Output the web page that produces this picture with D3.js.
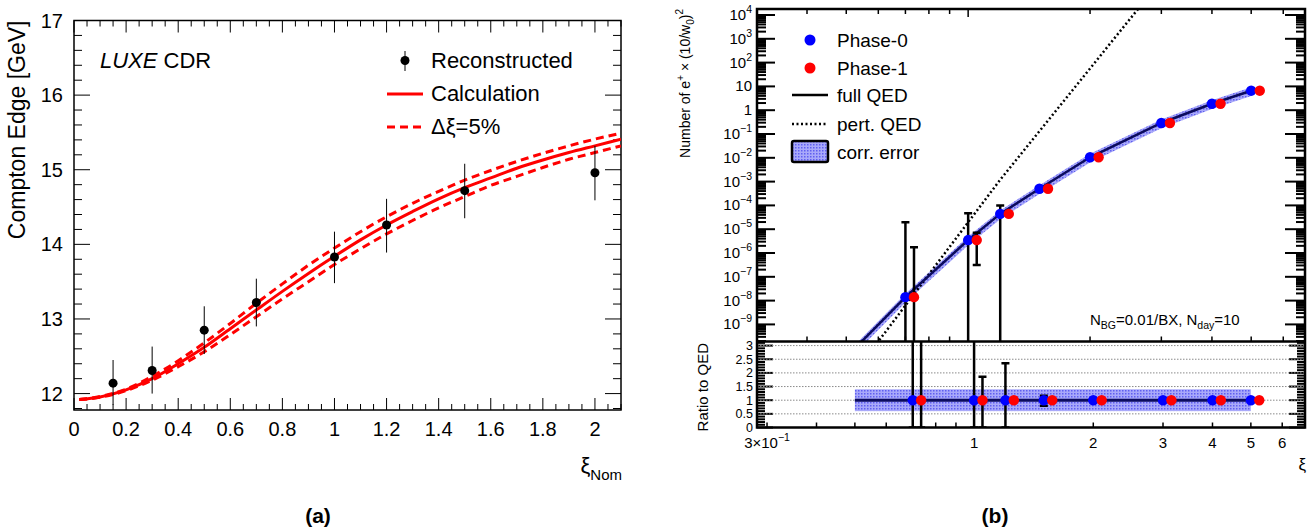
<!DOCTYPE html>
<html>
<head>
<meta charset="utf-8">
<script src="https://cdn.jsdelivr.net/npm/d3@7"></script>
<style>
  body { margin: 0; background: #fff; }
  svg { display: block; font-family: "Liberation Sans", Arial, Helvetica, sans-serif; }
</style>
</head>
<body>
<svg id="fig" width="1314" height="530"></svg>
<script>
// ---------- data, panel (a) ----------
const xiNom    = [0.15, 0.3, 0.5, 0.7, 1.0, 1.2, 1.5, 2.0];
const edgeReco = [12.14, 12.31, 12.85, 13.22, 13.83, 14.26, 14.72, 14.96];
const edgeHi   = [12.45, 12.63, 13.17, 13.54, 14.17, 14.61, 15.08, 15.32];
const edgeLo   = [11.85, 12.00, 12.53, 12.90, 13.48, 13.89, 14.35, 14.59];

const calcXi   = [0.02, 0.1, 0.2, 0.3, 0.4, 0.5, 0.6, 0.7, 0.8, 0.9, 1.0,
                  1.1, 1.2, 1.3, 1.4, 1.5, 1.6, 1.7, 1.8, 1.9, 2.0, 2.1];
const calcEdge = [11.92, 11.955, 12.05, 12.20, 12.40, 12.62, 12.87, 13.12, 13.37, 13.61, 13.84,
                  14.06, 14.26, 14.44, 14.61, 14.76, 14.89, 15.02, 15.13, 15.23, 15.32, 15.41];
const calcUp   = [11.92, 11.96, 12.06, 12.23, 12.44, 12.68, 12.94, 13.21, 13.47, 13.72, 13.95,
                  14.17, 14.37, 14.55, 14.71, 14.86, 14.99, 15.11, 15.22, 15.32, 15.41, 15.49];
const calcDown = [11.92, 11.95, 12.04, 12.18, 12.36, 12.56, 12.79, 13.03, 13.27, 13.50, 13.73,
                  13.94, 14.14, 14.32, 14.49, 14.64, 14.79, 14.91, 15.03, 15.14, 15.23, 15.32];

// ---------- data, panel (b) ----------
const xiPhase0 = [0.7, 1.0, 1.2, 1.5, 2, 3, 4, 5];
const xiPhase1 = [0.735, 1.05, 1.26, 1.575, 2.1, 3.15, 4.2, 5.25];
const nPhase0  = [1.4e-8, 3.5e-6, 4.4e-5, 5.0e-4, 1.05e-2, 0.29, 1.87, 6.6];
const nPhase1  = [1.4e-8, 3.5e-6, 4.4e-5, 5.0e-4, 1.05e-2, 0.29, 1.87, 6.6];

const fullQedXi = [0.5, 0.7, 1.0, 1.2, 1.5, 2, 3, 4, 5];
const fullQedN  = [4.2e-11, 1.4e-8, 3.5e-6, 4.4e-5, 5.0e-4, 1.05e-2, 0.29, 1.87, 6.6];
const pertQedXi = [0.55, 1.2, 2.8];
const pertQedN  = [2.7e-11, 1.2e-3, 6.8e4];
const corrErrLo = 0.6, corrErrHi = 1.4;   // relative band

// error bars, upper panel (1e-12 = runs off the bottom)
const errXi  = [0.7, 0.735, 1.0, 1.05, 1.2];
const errHiN = [1.95e-5, 1.74e-6, 4.65e-5, 7.1e-6, 9.8e-5];
const errLoN = [1e-12, 1e-12, 1e-12, 3.1e-7, 1e-12];

// ratio panel
const ratioErrXi = [0.7, 0.735, 1.0, 1.05, 1.2, 1.5];
const ratioErrHi = [6, 6, 13, 1.86, 2.35, 1.16];
const ratioErrLo = [0, 0, 0, 0, 0, 0.8];
const ratioYTicks = ["0", "0.5", "1", "1.5", "2", "2.5", "3"];
const ratioXLabels = [1, 2, 3, 4, 5, 6];

const svg = d3.select('#fig');
svg.append('rect').attr('width', 1314).attr('height', 530).attr('fill', '#fff');
const defs = svg.append('defs');

function clip(id, x, y, w, h) {
  defs.append('clipPath').attr('id', id).append('rect')
    .attr('x', x).attr('y', y).attr('width', w).attr('height', h);
  return 'url(#' + id + ')';
}
function tickLines(g, data, attrs, width) {
  g.selectAll(null).data(data).enter().append('line')
    .attr('x1', attrs.x1).attr('x2', attrs.x2).attr('y1', attrs.y1).attr('y2', attrs.y2)
    .attr('stroke', '#000').attr('stroke-width', width || 1);
}

// =============== panel (a) ===============
const ax = d3.scaleLinear([0, 2.1], [74, 621]);
const ay = d3.scaleLinear([11.78, 17], [410, 20.5]);
const ga = svg.append('g');
const clipA = clip('clipA', 74, 20.5, 547, 389.5);

// ticks on four sides
const xMin = d3.range(0, 2.1001, 0.05).map(v => ({ v, major: Math.abs(v / 0.2 - Math.round(v / 0.2)) < 1e-6 }));
const yMin = d3.range(11.8, 17.0001, 0.2).map(v => ({ v, major: Math.abs(v - Math.round(v)) < 1e-6 }));
tickLines(ga, xMin, { x1: d => ax(d.v), x2: d => ax(d.v), y1: 410, y2: d => 410 - (d.major ? 12 : 6) });
tickLines(ga, xMin, { x1: d => ax(d.v), x2: d => ax(d.v), y1: 20.5, y2: d => 20.5 + (d.major ? 12 : 6) });
tickLines(ga, yMin, { x1: 74, x2: d => 74 + (d.major ? 16 : 8), y1: d => ay(d.v), y2: d => ay(d.v) });
tickLines(ga, yMin, { x1: 621, x2: d => 621 - (d.major ? 16 : 8), y1: d => ay(d.v), y2: d => ay(d.v) });
ga.append('rect').attr('x', 74).attr('y', 20.5).attr('width', 547).attr('height', 389.5)
  .attr('fill', 'none').attr('stroke', '#000').attr('stroke-width', 1.5);

ga.selectAll(null).data(xMin.filter(d => d.major)).enter().append('text')
  .attr('x', d => ax(d.v)).attr('y', 436).attr('text-anchor', 'middle')
  .attr('font-size', 20).text(d => String(+d.v.toFixed(1)));
ga.selectAll(null).data(yMin.filter(d => d.major)).enter().append('text')
  .attr('x', 63).attr('y', d => ay(d.v) + 7).attr('text-anchor', 'end')
  .attr('font-size', 20).text(d => String(Math.round(d.v)));

ga.append('text').attr('transform', 'translate(25,20.5) rotate(-90)').attr('text-anchor', 'end')
  .attr('font-size', 23).text('Compton Edge [GeV]');
const xt = ga.append('text').attr('x', 622).attr('y', 473).attr('text-anchor', 'end');
xt.append('tspan').attr('font-size', 22).text('ξ');
xt.append('tspan').attr('font-size', 15).attr('dy', 7).text('Nom');
ga.append('text').attr('x', 318).attr('y', 523).attr('text-anchor', 'middle')
  .attr('font-size', 21).attr('font-weight', 'bold').text('(a)');

// curves
const calcLine = yv => d3.line().x((d, i) => ax(calcXi[i])).y((d, i) => ay(yv[i])).curve(d3.curveMonotoneX)(calcXi);
const gc = ga.append('g').attr('clip-path', clipA);
gc.append('path').attr('d', calcLine(calcUp)).attr('fill', 'none').attr('stroke', '#ff0000')
  .attr('stroke-width', 3).attr('stroke-dasharray', '8,5');
gc.append('path').attr('d', calcLine(calcDown)).attr('fill', 'none').attr('stroke', '#ff0000')
  .attr('stroke-width', 3).attr('stroke-dasharray', '8,5');
gc.append('path').attr('d', calcLine(calcEdge)).attr('fill', 'none').attr('stroke', '#ff0000')
  .attr('stroke-width', 3);

// reconstructed points
gc.selectAll(null).data(xiNom).enter().append('line')
  .attr('x1', d => ax(d)).attr('x2', d => ax(d))
  .attr('y1', (d, i) => ay(edgeLo[i])).attr('y2', (d, i) => ay(edgeHi[i]))
  .attr('stroke', '#000').attr('stroke-width', 1);
gc.selectAll(null).data(xiNom).enter().append('circle')
  .attr('cx', d => ax(d)).attr('cy', (d, i) => ay(edgeReco[i])).attr('r', 4.5).attr('fill', '#000');

// legend and label
const lx = ga.append('text').attr('x', 100).attr('y', 68).attr('font-size', 22);
lx.append('tspan').attr('font-style', 'italic').text('LUXE');
lx.append('tspan').text(' CDR');
ga.append('line').attr('x1', 405).attr('x2', 405).attr('y1', 51).attr('y2', 71).attr('stroke', '#000');
ga.append('circle').attr('cx', 405).attr('cy', 60.5).attr('r', 4.5).attr('fill', '#000');
ga.append('line').attr('x1', 387).attr('x2', 423).attr('y1', 94).attr('y2', 94)
  .attr('stroke', '#ff0000').attr('stroke-width', 3);
ga.append('line').attr('x1', 387).attr('x2', 423).attr('y1', 127).attr('y2', 127)
  .attr('stroke', '#ff0000').attr('stroke-width', 3).attr('stroke-dasharray', '8,5');
[['Reconstructed', 68], ['Calculation', 101], ['Δξ=5%', 134]].forEach(([t, y]) =>
  ga.append('text').attr('x', 431).attr('y', y).attr('font-size', 22).text(t));

// =============== panel (b) ===============
const L = 757, R = 1305, T = 9, M = 341.5, B = 427.5;
const xU = d3.scaleLog([0.301, 6.79], [L, R]);
const yU = d3.scaleLog([10 ** -9.718, 10 ** 4.252], [M, T]);
const xL = d3.scaleLog([0.283, 6.85], [L, R]);
const yR = d3.scaleLinear([0, 3.15], [B, M]);
const gb = svg.append('g');
const clipU = clip('clipU', L, T, R - L, M - T);
const clipR = clip('clipR', L, M, R - L, B - M);

// hatched band fill
const pat = defs.append('pattern').attr('id', 'hatch').attr('width', 3).attr('height', 3)
  .attr('patternUnits', 'userSpaceOnUse');
pat.append('rect').attr('width', 3).attr('height', 3).attr('fill', '#a9a9fa');
pat.append('rect').attr('width', 1.5).attr('height', 1.5).attr('fill', '#5f5ff0');

function logTicks(lo, hi) {
  const out = [];
  for (let e = Math.floor(Math.log10(lo)); e <= Math.ceil(Math.log10(hi)); e++)
    for (let k = 1; k < 10; k++) {
      const v = k * Math.pow(10, e);
      if (v >= lo * 0.9999 && v <= hi) out.push({ v, major: k === 1 });
    }
  return out;
}
const yUt = logTicks(yU.domain()[0], yU.domain()[1]);
tickLines(gb, yUt, { x1: L, x2: d => L + (d.major ? 18 : 9), y1: d => yU(d.v), y2: d => yU(d.v) }, 2);
tickLines(gb, yUt, { x1: R, x2: d => R - (d.major ? 20 : 9), y1: d => yU(d.v), y2: d => yU(d.v) }, 2);
const xUt = logTicks(0.4, 6.5);
tickLines(gb, xUt, { x1: d => xU(d.v), x2: d => xU(d.v), y1: T, y2: d => T + (d.major ? 8 : 5) }, 1.5);
tickLines(gb, xUt, { x1: d => xU(d.v), x2: d => xU(d.v), y1: M, y2: d => M - (d.major ? 8 : 5) }, 1.5);

const yRt = d3.range(0, 3.1501, 0.1).map(v => ({ v, major: Math.abs(v * 2 - Math.round(v * 2)) < 1e-6 }));
tickLines(gb, yRt, { x1: L, x2: d => L + (d.major ? 16 : 8), y1: d => yR(d.v), y2: d => yR(d.v) }, 2);
tickLines(gb, yRt, { x1: R, x2: d => R - (d.major ? 16 : 8), y1: d => yR(d.v), y2: d => yR(d.v) }, 2);
const xLt = logTicks(0.3, 6.5);
tickLines(gb, xLt, { x1: d => xL(d.v), x2: d => xL(d.v), y1: B, y2: d => B - (d.major ? 8 : 5) }, 1.5);

// ratio grid
gb.selectAll(null).data(ratioYTicks).enter().append('line')
  .attr('x1', L).attr('x2', R).attr('y1', d => yR(+d)).attr('y2', d => yR(+d))
  .attr('stroke', '#8a8a8a').attr('stroke-width', 1).attr('stroke-dasharray', '1.5,1.5');

// tick labels
yUt.filter(d => d.major).forEach(d => {
  const e = Math.round(Math.log10(d.v));
  const t = gb.append('text').attr('x', 752).attr('y', yU(d.v) + 5).attr('text-anchor', 'end').attr('font-size', 15);
  if (e === 0) t.text('1');
  else if (e === 1) t.text('10');
  else {
    t.append('tspan').text('10');
    t.append('tspan').attr('font-size', 10.5).attr('dy', -7).text(String(e).replace('-', '−'));
  }
});
gb.selectAll(null).data(ratioYTicks).enter().append('text')
  .attr('x', 753).attr('y', d => yR(+d) + 4.5).attr('text-anchor', 'end').attr('font-size', 12.5).text(d => d);
const t3 = gb.append('text').attr('x', xL(0.3)).attr('y', 448).attr('text-anchor', 'middle').attr('font-size', 15);
t3.append('tspan').text('3×10');
t3.append('tspan').attr('font-size', 10.5).attr('dy', -7).text('−1');
gb.selectAll(null).data(ratioXLabels).enter().append('text')
  .attr('x', d => xL(d)).attr('y', 448).attr('text-anchor', 'middle').attr('font-size', 15).text(d => d);

// band + lines, upper
const gu = gb.append('g').attr('clip-path', clipU);
const bandIdx = d3.range(fullQedXi.length);
gu.append('path').attr('fill', 'url(#hatch)')
  .attr('d', d3.area().x(i => xU(fullQedXi[i])).y0(i => yU(fullQedN[i] * corrErrLo)).y1(i => yU(fullQedN[i] * corrErrHi))(bandIdx));
gu.append('path').attr('fill', 'none').attr('stroke', '#000').attr('stroke-width', 2.5)
  .attr('stroke-dasharray', '2,2.5')
  .attr('d', d3.line().x((d, i) => xU(pertQedXi[i])).y((d, i) => yU(pertQedN[i]))(pertQedXi));
gu.append('path').attr('fill', 'none').attr('stroke', '#0b0b5e').attr('stroke-width', 2.5)
  .attr('d', d3.line().x(i => xU(fullQedXi[i])).y(i => yU(fullQedN[i]))(bandIdx));

// error bars, upper
gu.selectAll(null).data(errXi).enter().append('line')
  .attr('x1', d => xU(d)).attr('x2', d => xU(d))
  .attr('y1', (d, i) => yU(errLoN[i])).attr('y2', (d, i) => yU(errHiN[i]))
  .attr('stroke', '#000').attr('stroke-width', 2.5);
[errHiN, errLoN].forEach(arr =>
  gu.selectAll(null).data(errXi).enter().append('line')
    .attr('x1', d => xU(d) - 4).attr('x2', d => xU(d) + 4)
    .attr('y1', (d, i) => yU(arr[i])).attr('y2', (d, i) => yU(arr[i]))
    .attr('stroke', '#000').attr('stroke-width', 2.5));

gu.selectAll(null).data(xiPhase0).enter().append('circle')
  .attr('cx', d => xU(d)).attr('cy', (d, i) => yU(nPhase0[i])).attr('r', 5.2).attr('fill', '#0000ff');
gu.selectAll(null).data(xiPhase1).enter().append('circle')
  .attr('cx', d => xU(d)).attr('cy', (d, i) => yU(nPhase1[i])).attr('r', 5.2).attr('fill', '#ff0000');

// ratio panel
const gr = gb.append('g').attr('clip-path', clipR);
gr.append('rect').attr('x', xL(0.5)).attr('width', xL(5) - xL(0.5))
  .attr('y', yR(corrErrHi)).attr('height', yR(corrErrLo) - yR(corrErrHi)).attr('fill', 'url(#hatch)');
gr.append('line').attr('x1', xL(0.5)).attr('x2', xL(5)).attr('y1', yR(1)).attr('y2', yR(1))
  .attr('stroke', '#0b0b5e').attr('stroke-width', 3);
gr.selectAll(null).data(ratioErrXi).enter().append('line')
  .attr('x1', d => xL(d)).attr('x2', d => xL(d))
  .attr('y1', (d, i) => yR(ratioErrLo[i])).attr('y2', (d, i) => yR(ratioErrHi[i]))
  .attr('stroke', '#000').attr('stroke-width', 2.5);
[ratioErrHi, ratioErrLo].forEach(arr =>
  gr.selectAll(null).data(ratioErrXi).enter().append('line')
    .attr('x1', d => xL(d) - 4).attr('x2', d => xL(d) + 4)
    .attr('y1', (d, i) => yR(arr[i])).attr('y2', (d, i) => yR(arr[i]))
    .attr('stroke', '#000').attr('stroke-width', 2.5));
gr.selectAll(null).data(xiPhase0).enter().append('circle')
  .attr('cx', d => xL(d)).attr('cy', yR(1)).attr('r', 5.2).attr('fill', '#0000ff');
gr.selectAll(null).data(xiPhase1).enter().append('circle')
  .attr('cx', d => xL(d)).attr('cy', yR(1)).attr('r', 5.2).attr('fill', '#ff0000');

// frames
gb.append('rect').attr('x', L).attr('y', T).attr('width', R - L).attr('height', B - T)
  .attr('fill', 'none').attr('stroke', '#000').attr('stroke-width', 2.5);
gb.append('line').attr('x1', L).attr('x2', R).attr('y1', M).attr('y2', M)
  .attr('stroke', '#000').attr('stroke-width', 2.5);

// titles
const yt = gb.append('text').attr('transform', 'translate(690,9) rotate(-90)')
  .attr('text-anchor', 'end').attr('font-size', 14);
yt.append('tspan').text('Number of e');
yt.append('tspan').attr('font-size', 10).attr('dy', -6).text('+');
yt.append('tspan').attr('dy', 6).text(' × (10/w');
yt.append('tspan').attr('font-size', 10).attr('dy', 4).text('0');
yt.append('tspan').attr('dy', -4).text(')');
yt.append('tspan').attr('font-size', 10).attr('dy', -7).text('2');
gb.append('text').attr('transform', 'translate(708,343) rotate(-90)')
  .attr('text-anchor', 'end').attr('font-size', 15).text('Ratio to QED');
gb.append('text').attr('x', 1306).attr('y', 470).attr('text-anchor', 'end').attr('font-size', 17).text('ξ');
gb.append('text').attr('x', 995).attr('y', 523).attr('text-anchor', 'middle')
  .attr('font-size', 21).attr('font-weight', 'bold').text('(b)');

const nb = gb.append('text').attr('x', 1090).attr('y', 325).attr('font-size', 15);
nb.append('tspan').text('N');
nb.append('tspan').attr('font-size', 10.5).attr('dy', 4).text('BG');
nb.append('tspan').attr('dy', -4).text('=0.01/BX, N');
nb.append('tspan').attr('font-size', 10.5).attr('dy', 4).text('day');
nb.append('tspan').attr('dy', -4).text('=10');

// legend (b)
gb.append('circle').attr('cx', 810).attr('cy', 40).attr('r', 5.5).attr('fill', '#0000ff');
gb.append('circle').attr('cx', 810).attr('cy', 68).attr('r', 5.5).attr('fill', '#ff0000');
gb.append('line').attr('x1', 792).attr('x2', 828).attr('y1', 95).attr('y2', 95)
  .attr('stroke', '#000').attr('stroke-width', 2.5);
gb.append('line').attr('x1', 792).attr('x2', 828).attr('y1', 124).attr('y2', 124)
  .attr('stroke', '#000').attr('stroke-width', 2.5).attr('stroke-dasharray', '2,2.5');
gb.append('rect').attr('x', 792).attr('y', 141).attr('width', 36).attr('height', 21).attr('rx', 2)
  .attr('fill', 'url(#hatch)').attr('stroke', '#000').attr('stroke-width', 2.5);
[['Phase-0', 47], ['Phase-1', 75], ['full QED', 102], ['pert. QED', 131], ['corr. error', 159]].forEach(([t, y]) =>
  gb.append('text').attr('x', 837).attr('y', y).attr('font-size', 19).text(t));
</script>
</body>
</html>
